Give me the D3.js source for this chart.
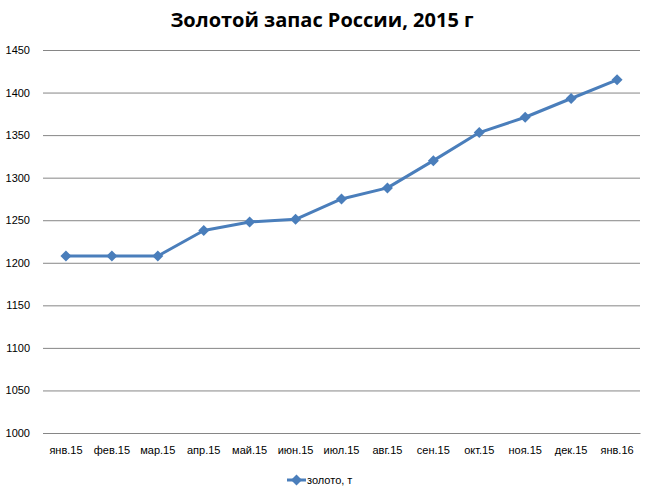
<!DOCTYPE html>
<html><head><meta charset="utf-8">
<script src="https://cdn.jsdelivr.net/npm/d3@7"></script>
<style>body{margin:0;background:#fff}svg{display:block}</style>
</head><body>
<svg id="c" width="650" height="492"></svg>
<script>
const title = "Золотой запас России, 2015 г";
const categories = ["янв.15","фев.15","мар.15","апр.15","май.15","июн.15","июл.15","авг.15","сен.15","окт.15","ноя.15","дек.15","янв.16"];
const values = [1208, 1208, 1208, 1238, 1248, 1251, 1275, 1288, 1320, 1353, 1371, 1393, 1415];
const yTicks = [1000,1050,1100,1150,1200,1250,1300,1350,1400,1450];
const seriesName = "золото, т";

const svg = d3.select("#c");
const m = {l:43, r:10, t:50, b:59};
const W = 650, H = 492;
const x = d3.scaleBand().domain(categories).range([m.l, W-m.r]);
const y = d3.scaleLinear().domain([1000,1450]).range([H-m.b, m.t]);
const color = "#4a7ebb";

svg.append("text").attr("x",322).attr("y",27).attr("text-anchor","middle")
  .attr("font-family","Open Sans, Liberation Sans, sans-serif").attr("font-weight","bold")
  .attr("font-size",20).attr("fill","#000").text(title);

const ya = svg.append("g").attr("transform",`translate(${m.l},0)`)
  .call(d3.axisLeft(y).tickValues(yTicks).tickSize(-(W-m.l-m.r)).tickPadding(13).tickFormat(d3.format("d")));
ya.select(".domain").remove();
ya.selectAll(".tick line").attr("stroke","#868686").attr("stroke-width",1);
ya.selectAll(".tick text").attr("font-family","Liberation Sans, Arial, sans-serif").attr("font-size",11).attr("fill","#000");

const xa = svg.append("g").attr("transform",`translate(0,${H-m.b})`)
  .call(d3.axisBottom(x).tickSize(0).tickPadding(13));
xa.select(".domain").attr("stroke","#868686");
xa.selectAll(".tick text").attr("font-family","Liberation Sans, Arial, sans-serif").attr("font-size",11).attr("fill","#000");

const cx = d => x(d) + x.bandwidth()/2;
const line = d3.line().x((d,i)=>cx(categories[i])).y(d=>y(d));
svg.append("path").datum(values).attr("d",line).attr("fill","none")
  .attr("stroke",color).attr("stroke-width",3).attr("stroke-linejoin","round");
const dm = "M0,-5.5L5.5,0L0,5.5L-5.5,0Z";
svg.selectAll(".pt").data(values).join("path").attr("class","pt")
  .attr("transform",(d,i)=>`translate(${cx(categories[i])},${y(d)})`)
  .attr("d",dm).attr("fill",color);

const lg = svg.append("g");
lg.append("line").attr("x1",287).attr("x2",306).attr("y1",480).attr("y2",480).attr("stroke",color).attr("stroke-width",3);
lg.append("path").attr("transform","translate(296.5,480)").attr("d",dm).attr("fill",color);
lg.append("text").attr("x",307).attr("y",484).attr("font-family","Liberation Sans, Arial, sans-serif")
  .attr("font-size",11).attr("fill","#000").text(seriesName);
</script>
</body></html>
